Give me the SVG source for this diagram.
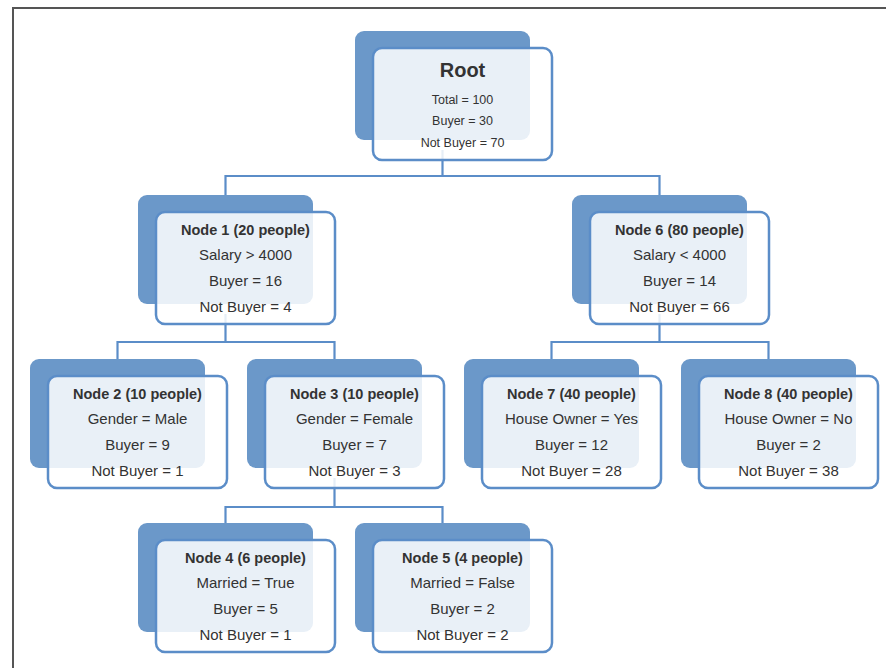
<svg xmlns="http://www.w3.org/2000/svg" width="886" height="668" viewBox="0 0 886 668">
<style>
.back{fill:#6b98c9}
.front{fill:#ffffff;fill-opacity:0.85;stroke:#5b8dc8;stroke-width:2.5}
.conn{fill:none;stroke:#5b8dc8;stroke-width:2.2}
text{font-family:"Liberation Sans",Arial,sans-serif;fill:#333333;text-anchor:middle}
.t{font-size:14.5px;font-weight:bold}
.l{font-size:15px}
.rt{font-size:20px;font-weight:bold}
.rl{font-size:12.5px}
</style>
<rect width="886" height="668" fill="#ffffff"/>
<path d="M13,680 L13,8 L890,8" fill="none" stroke="#555555" stroke-width="2"/>
<g id="connectors">
<path class="conn" d="M442.5,150 V176 M225.5,195 V176 H659.5 V195"/>
<path class="conn" d="M225.5,314 V342 M117.5,359 V342 H334.5 V359"/>
<path class="conn" d="M659.5,314 V342 M551.5,359 V342 H768.5 V359"/>
<path class="conn" d="M334.5,478 V507 M225.5,523 V507 H442.5 V523"/>
</g>
<g id="root">
<rect class="back" x="355" y="31" width="175" height="109" rx="9"/>
<rect class="front" x="373" y="48" width="179" height="112" rx="9"/>
<text class="rt" x="462.5" y="77">Root</text>
<text class="rl" x="462.5" y="104">Total = 100</text>
<text class="rl" x="462.5" y="125">Buyer = 30</text>
<text class="rl" x="462.5" y="147">Not Buyer = 70</text>
</g>
<g id="node1">
<rect class="back" x="138" y="195" width="175" height="109" rx="9"/>
<rect class="front" x="156" y="212" width="179" height="112" rx="9"/>
<text class="t" x="245.5" y="235">Node 1 (20 people)</text>
<text class="l" x="245.5" y="260">Salary &gt; 4000</text>
<text class="l" x="245.5" y="286">Buyer = 16</text>
<text class="l" x="245.5" y="312">Not Buyer = 4</text>
</g>
<g id="node6">
<rect class="back" x="572" y="195" width="175" height="109" rx="9"/>
<rect class="front" x="590" y="212" width="179" height="112" rx="9"/>
<text class="t" x="679.5" y="235">Node 6 (80 people)</text>
<text class="l" x="679.5" y="260">Salary &lt; 4000</text>
<text class="l" x="679.5" y="286">Buyer = 14</text>
<text class="l" x="679.5" y="312">Not Buyer = 66</text>
</g>
<g id="node2">
<rect class="back" x="30" y="359" width="175" height="109" rx="9"/>
<rect class="front" x="48" y="376" width="179" height="112" rx="9"/>
<text class="t" x="137.5" y="399">Node 2 (10 people)</text>
<text class="l" x="137.5" y="424">Gender = Male</text>
<text class="l" x="137.5" y="450">Buyer = 9</text>
<text class="l" x="137.5" y="476">Not Buyer = 1</text>
</g>
<g id="node3">
<rect class="back" x="247" y="359" width="175" height="109" rx="9"/>
<rect class="front" x="265" y="376" width="179" height="112" rx="9"/>
<text class="t" x="354.5" y="399">Node 3 (10 people)</text>
<text class="l" x="354.5" y="424">Gender = Female</text>
<text class="l" x="354.5" y="450">Buyer = 7</text>
<text class="l" x="354.5" y="476">Not Buyer = 3</text>
</g>
<g id="node7">
<rect class="back" x="464" y="359" width="175" height="109" rx="9"/>
<rect class="front" x="482" y="376" width="179" height="112" rx="9"/>
<text class="t" x="571.5" y="399">Node 7 (40 people)</text>
<text class="l" x="571.5" y="424">House Owner = Yes</text>
<text class="l" x="571.5" y="450">Buyer = 12</text>
<text class="l" x="571.5" y="476">Not Buyer = 28</text>
</g>
<g id="node8">
<rect class="back" x="681" y="359" width="175" height="109" rx="9"/>
<rect class="front" x="699" y="376" width="179" height="112" rx="9"/>
<text class="t" x="788.5" y="399">Node 8 (40 people)</text>
<text class="l" x="788.5" y="424">House Owner = No</text>
<text class="l" x="788.5" y="450">Buyer = 2</text>
<text class="l" x="788.5" y="476">Not Buyer = 38</text>
</g>
<g id="node4">
<rect class="back" x="138" y="523" width="175" height="109" rx="9"/>
<rect class="front" x="156" y="540" width="179" height="112" rx="9"/>
<text class="t" x="245.5" y="563">Node 4 (6 people)</text>
<text class="l" x="245.5" y="588">Married = True</text>
<text class="l" x="245.5" y="614">Buyer = 5</text>
<text class="l" x="245.5" y="640">Not Buyer = 1</text>
</g>
<g id="node5">
<rect class="back" x="355" y="523" width="175" height="109" rx="9"/>
<rect class="front" x="373" y="540" width="179" height="112" rx="9"/>
<text class="t" x="462.5" y="563">Node 5 (4 people)</text>
<text class="l" x="462.5" y="588">Married = False</text>
<text class="l" x="462.5" y="614">Buyer = 2</text>
<text class="l" x="462.5" y="640">Not Buyer = 2</text>
</g>
</svg>
